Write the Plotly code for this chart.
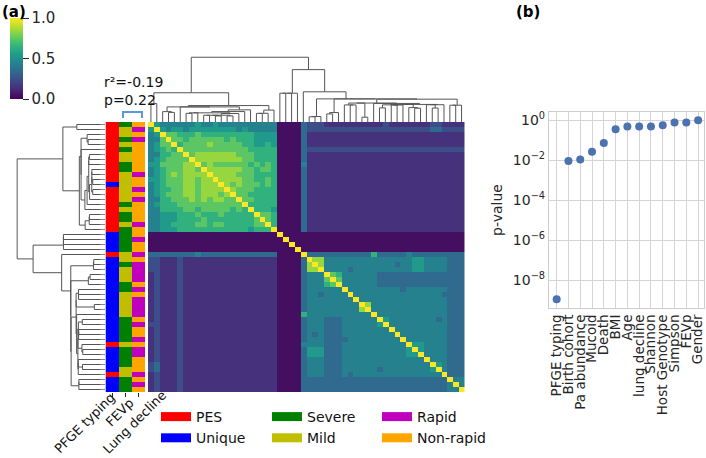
import numpy as np
import plotly.graph_objects as go

# ---------------- data ----------------
# lower triangle of the similarity matrix, rows in clustered order.
# digit d -> d/10 + 0.04, 'X' -> 1.0 (diagonal); spaces only for readability
sim_lower = [
    "X",
    "5X",
    "45 X",
    "44 7X",
    "45 77X",
    "45 676 X",
    "44 667 7X",
    "45 677 77X",
    "55 777 788X",
    "45 677 7887X",
    "45 678 78888X",
    "55 677 788788X",
    "45 677 7887888X",
    "45 667 78878888X",
    "45 677 788788878X",
    "44 667 7787878877X",
    "45 666 77777777777X",
    "44 666 677677777676X",
    "44 555 6667666766666 X",
    "44 555 6666766666666 7X",
    "44 556 6667767766666 77X",
    "44 555 6666666666665 666X",
    "00 000 0000000000000 0000 X",
    "00 000 0000000000000 0000 0X",
    "00 000 0000000000000 0000 00X",
    "00 000 0000000000000 0000 000X",
    "33 333 3334333333333 3333 0000 X",
    "22 111 2111111111111 1111 0000 3 X",
    "22 111 2111111111111 1111 0000 3 8X",
    "22 111 2111111111111 1111 0000 3 88X",
    "12 111 2111111111111 1111 0000 3 444 X",
    "12 111 2111111111111 1111 0000 3 444 7X",
    "12 111 2111111111111 1111 0000 3 444 67X",
    "12 111 2111111111111 1111 0000 3 444 444 X",
    "12 111 2111111111111 1111 0000 3 443 444 4X",
    "12 111 2111111111111 1111 0000 3 444 444 44X",
    "12 111 2111111111111 1111 0000 3 444 444 444 X",
    "12 111 2111111111111 1111 0000 3 444 444 444 8X",
    "12 111 2111111111111 1111 0000 6 444 444 444 44 X",
    "12 111 2111111111111 1111 0000 3 444 333 444 44 4 X",
    "22 111 2111111111111 1111 0000 3 444 333 444 44 4 5X",
    "12 111 2111111111111 1111 0000 3 444 333 444 44 4 44X",
    "12 111 2111111111111 1111 0000 3 434 333 444 44 4 444X",
    "12 111 2111111111111 1111 0000 3 444 333 344 44 4 4444X",
    "12 111 2111111111111 1111 0000 4 444 333 444 44 4 44444X",
    "12 111 2111111111111 1111 0000 3 555 333 444 44 4 444445X",
    "12 111 2111111111111 1111 0000 3 555 333 444 44 4 4444455X",
    "12 111 2111111111111 1111 0000 3 444 333 444 44 4 44444444X",
    "23 111 2111111111111 1111 0000 3 444 333 444 44 4 444444444X",
    "23 111 2111111111111 1111 0000 3 444 333 444 44 4 3444444445X",
    "12 111 2111111111111 1111 0000 3 444 333 434 44 4 44444444444X",
    "12 111 2111111111111 1111 0000 3 333 333 333 33 3 333333333333X",
    "12 111 2111111111111 1111 0000 3 333 333 333 33 3 3333333333334X",
    "12 111 2111111111111 1111 0000 3 333 333 333 33 3 33333333333344X",
]

# row annotations (same order as matrix rows)
pfge_codes = "PPPPPPPPPPPPUPPPPPPPPPUUUUPUUUUUUUUUUUUUUUUUPUUUUUPUUU"
fevp_codes = "SMMSMSMMSSMMMMMMSMSSMSSSSSMMSMMMSSMMMMMSSSSSMSSSSMMSSS"
decline_codes = "NRNRNNNNNNRNNRNRNNNNRNNRNNRNRRRRNRNRRRRNRNNRNRRNNNRNRN"

annot_labels = ["PFGE typing", "FEVp", "Lung decline"]
legend_names = ["PES", "Unique", "Severe", "Mild", "Rapid", "Non-rapid"]
legend_colors = ["#ff0000", "#0000ff", "#008000", "#bfbf00", "#bf00bf", "#ffa500"]
code_index = {"P": 0, "U": 1, "S": 2, "M": 3, "R": 4, "N": 5}

pv_labels = ["PFGE typing", "Birth cohort", "Pa abundance", "Mucoid", "Death", "BMI",
             "Age", "lung decline", "Shannon", "Host Genotype", "Simpson", "FEVp", "Gender"]
pv_values = [1.1e-9, 0.009, 0.0105, 0.026, 0.07, 0.34, 0.48, 0.48, 0.48, 0.54, 0.74, 0.74, 0.96]

# ---------------- build matrix ----------------
def decode(ch):
    return 1.0 if ch == "X" else int(ch) / 10 + 0.04

n = len(sim_lower)
M = np.zeros((n, n))
for i, row in enumerate(sim_lower):
    s = row.replace(" ", "")
    assert len(s) == i + 1, (i, len(s))
    for j, ch in enumerate(s):
        M[i, j] = M[j, i] = decode(ch)

# ---------------- order-preserving average linkage (euclidean) ----------------
Dm = np.sqrt(((M[:, None, :] - M[None, :, :]) ** 2).sum(-1))
clusters = [dict(lo=i, hi=i + 1, pos=float(i), h=0.0) for i in range(n)]
seg_pos, seg_h = [], []
while len(clusters) > 1:
    best = None
    for k in range(len(clusters) - 1):
        a, b = clusters[k], clusters[k + 1]
        d = Dm[a["lo"]:a["hi"], b["lo"]:b["hi"]].mean()
        if best is None or d < best[0]:
            best = (d, k)
    d, k = best
    a, b = clusters[k], clusters[k + 1]
    h = max(d, a["h"], b["h"])
    seg_pos += [a["pos"], a["pos"], b["pos"], b["pos"], None]
    seg_h += [a["h"], h, h, b["h"], None]
    clusters[k:k + 2] = [dict(lo=a["lo"], hi=b["hi"], pos=(a["pos"] + b["pos"]) / 2, h=h)]
hmax = clusters[0]["h"]

# ---------------- figure ----------------
W, H = 706, 458
def px(x): return x / W
def py(y): return 1 - y / H

FONT = "DejaVu Sans"
TXT = "#262626"
fig = go.Figure()

# main heatmap
fig.add_trace(go.Heatmap(
    z=M, x=list(range(n)), y=list(range(n)), colorscale="Viridis", zmin=0, zmax=1,
    xaxis="x", yaxis="y", hoverinfo="skip",
    colorbar=dict(x=px(10), xanchor="left", xpad=0, ypad=0, y=py(58.5), yanchor="middle",
                  thickness=13, thicknessmode="pixels", len=81, lenmode="pixels",
                  outlinewidth=0, tickvals=[0, 0.5, 1], ticktext=["0.0", "0.5", "1.0"],
                  ticks="outside", ticklen=6, tickcolor=TXT,
                  tickfont=dict(family=FONT, size=15, color=TXT)),
))

# row colour annotations
Z = np.array([[code_index[c] for c in col] for col in (pfge_codes, fevp_codes, decline_codes)]).T
cs = []
for k, c in enumerate(legend_colors):
    cs += [[k / 6, c], [(k + 1) / 6, c]]
fig.add_trace(go.Heatmap(z=Z, x=[0, 1, 2], y=list(range(n)), colorscale=cs, zmin=-0.5, zmax=5.5,
                         showscale=False, xaxis="x2", yaxis="y2", hoverinfo="skip"))

# dendrograms
fig.add_trace(go.Scatter(x=seg_h, y=seg_pos, mode="lines", line=dict(color="#555555", width=1),
                         xaxis="x3", yaxis="y3", showlegend=False, hoverinfo="skip"))
fig.add_trace(go.Scatter(x=seg_pos, y=seg_h, mode="lines", line=dict(color="#555555", width=1),
                         xaxis="x4", yaxis="y4", showlegend=False, hoverinfo="skip"))

# legend entries: three small legends of two entries each
legend_ids = ["legend", "legend", "legend2", "legend2", "legend3", "legend3"]
for idx in range(6):
    fig.add_trace(go.Scatter(x=[None], y=[None], mode="lines", name=legend_names[idx],
                             line=dict(color=legend_colors[idx], width=9),
                             xaxis="x", yaxis="y", showlegend=True, legend=legend_ids[idx]))

# panel (b)
fig.add_trace(go.Scatter(x=list(range(len(pv_labels))), y=pv_values, mode="markers",
                         marker=dict(color="#4c72b0", size=8), xaxis="x5", yaxis="y5",
                         showlegend=False, hoverinfo="skip"))

hid = dict(visible=False, showgrid=False, zeroline=False)
yd = [py(392), py(122)]
leg_common = dict(orientation="v", xanchor="left", y=py(401), yanchor="top",
                  font=dict(size=14, color="#111111"), bgcolor="rgba(0,0,0,0)",
                  borderwidth=0, tracegroupgap=0)

# rotated labels under the colour columns (centre positions in pixels)
label_centres = [(84, 423), (119.5, 412), (134, 422)]
label_annots = [dict(text=t, x=px(cx), y=py(cy), xref="paper", yref="paper", xanchor="center",
                     yanchor="middle", textangle=-45, showarrow=False,
                     font=dict(size=13, color="#111111"))
                for t, (cx, cy) in zip(annot_labels, label_centres)]

fig.update_layout(
    width=W, height=H, autosize=False,
    margin=dict(l=0, r=0, t=0, b=0, pad=0, autoexpand=False),
    paper_bgcolor="white", plot_bgcolor="white",
    font=dict(family=FONT, color=TXT, size=14),
    xaxis=dict(domain=[px(148), px(464.5)], range=[-0.5, n - 0.5], anchor="y", **hid),
    yaxis=dict(domain=yd, range=[n - 0.5, -0.5], anchor="x", **hid),
    xaxis2=dict(domain=[px(105.5), px(145)], range=[-0.5, 2.5], anchor="y2", showgrid=False,
                zeroline=False, tickmode="array", tickvals=[0, 1, 2], showticklabels=False,
                ticks="outside", ticklen=4, tickcolor=TXT, automargin=False),
    yaxis2=dict(domain=yd, range=[n - 0.5, -0.5], anchor="x2", showgrid=False, zeroline=False,
                tickmode="array", tickvals=list(range(n)), showticklabels=False,
                ticks="outside", ticklen=5, tickcolor="#888888", automargin=False),
    xaxis3=dict(domain=[px(13), px(100.5)], range=[hmax * 1.05, 0], anchor="y3", **hid),
    yaxis3=dict(domain=yd, range=[n - 0.5, -0.5], anchor="x3", **hid),
    xaxis4=dict(domain=[px(148), px(464.5)], range=[-0.5, n - 0.5], anchor="y4", **hid),
    yaxis4=dict(domain=[py(122), py(54)], range=[0, hmax * 1.05], anchor="x4", **hid),
    xaxis5=dict(domain=[px(549), px(704)], range=[-0.65, 12.5], anchor="y5",
                tickmode="array", tickvals=list(range(len(pv_labels))), ticktext=pv_labels,
                tickangle=-90, showgrid=True, gridcolor="#d5d5d5", gridwidth=1, zeroline=False,
                showline=True, linecolor="#cccccc", linewidth=1.2, mirror=True, ticks="",
                tickfont=dict(size=13.5, color=TXT), automargin=False),
    yaxis5=dict(domain=[py(308), py(112)], type="log", range=[-9.4, 0.4], anchor="x5",
                tickmode="array", tickvals=[1, 1e-2, 1e-4, 1e-6, 1e-8],
                ticktext=["10<sup>0</sup>", "10<sup>\u22122</sup>", "10<sup>\u22124</sup>",
                          "10<sup>\u22126</sup>", "10<sup>\u22128</sup>"],
                showgrid=True, gridcolor="#d5d5d5", gridwidth=1, zeroline=False,
                showline=True, linecolor="#cccccc", linewidth=1.2, mirror=True, ticks="",
                tickfont=dict(size=14, color=TXT), automargin=False,
                title=dict(text="p-value", font=dict(size=14, color=TXT), standoff=6)),
    legend=dict(x=px(156), **leg_common),
    legend2=dict(x=px(267), **leg_common),
    legend3=dict(x=px(377), **leg_common),
    shapes=[dict(type="path", xref="paper", yref="paper",
                 path=f"M {px(123)},{py(118)} L {px(123)},{py(112)} L {px(142)},{py(112)} L {px(142)},{py(118)}",
                 line=dict(color="#5b9bd5", width=2))],
    annotations=[
        dict(text="<b>(a)</b>", x=px(0), y=py(1), xref="paper", yref="paper", xanchor="left",
             yanchor="top", showarrow=False, font=dict(size=15, color="black")),
        dict(text="<b>(b)</b>", x=px(514), y=py(1), xref="paper", yref="paper", xanchor="left",
             yanchor="top", showarrow=False, font=dict(size=15, color="black")),
        dict(text="r\u00b2=-0.19", x=px(102), y=py(82), xref="paper", yref="paper", xanchor="left",
             yanchor="middle", showarrow=False, font=dict(size=14, color="#111111")),
        dict(text="p=0.22", x=px(102), y=py(100), xref="paper", yref="paper", xanchor="left",
             yanchor="middle", showarrow=False, font=dict(size=14, color="#111111")),
    ] + label_annots,
)

fig.write_html("out.html", config={"displayModeBar": False},
               post_script="document.body.style.margin='0';document.body.style.padding='0';"
                           "document.body.style.overflow='hidden';")
